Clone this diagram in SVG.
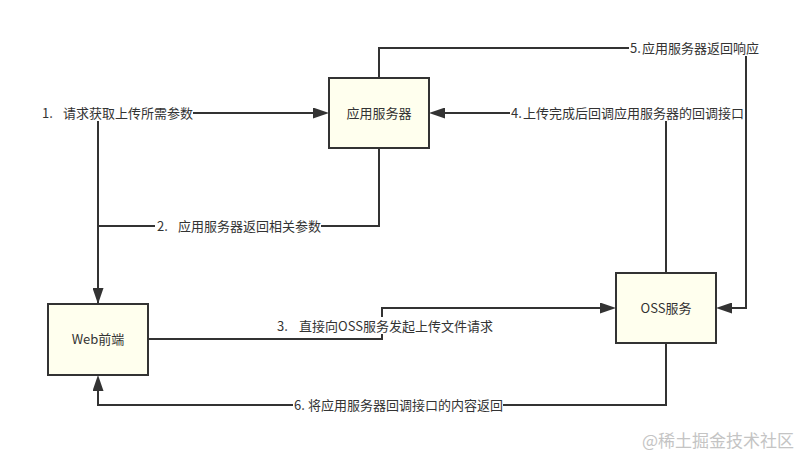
<svg xmlns="http://www.w3.org/2000/svg" width="808" height="467" viewBox="0 0 808 467">
<style>
.node rect{fill:#ffffee;stroke:#333;stroke-width:2}
.node text,.lbl text{font-family:"Noto Sans CJK SC","Liberation Serif",serif;font-size:13px;fill:#333}
.node text{text-anchor:middle}
.edge{fill:none;stroke:#333;stroke-width:2;marker-end:url(#arr)}
.lbl rect{fill:#fff}
.wm{font-family:"Noto Sans CJK SC",sans-serif;font-size:17px;fill:#c4c4c4}
</style>
<defs>
<marker id="arr" markerUnits="userSpaceOnUse" markerWidth="16" markerHeight="11" refX="12" refY="5.5" orient="auto">
<path d="M0,0 L16,5.5 L0,11 z" fill="#333"/>
</marker>
</defs>
<rect width="808" height="467" fill="#fff"/>
<g id="connectors">
<path class="edge" d="M98,304 L98,113 L325,113"/>
<path class="edge" d="M379,148 L379,226 L98,226 L98,300"/>
<path class="edge" d="M148,339 L382,339 L382,308 L612,308"/>
<path class="edge" d="M666,273 L666,113 L433,113"/>
<path class="edge" d="M379,78 L379,48 L746,48 L746,308 L720,308"/>
<path class="edge" d="M666,343 L666,405 L98,405 L98,379"/>
<g class="lbl"><rect x="40" y="104" width="153" height="17"/><text x="42" y="117.5">1. <tspan x="63">请求获取上传所需参数</tspan></text></g>
<g class="lbl"><rect x="155" y="217" width="166" height="17"/><text x="157" y="230.5">2. <tspan x="178">应用服务器返回相关参数</tspan></text></g>
<g class="lbl"><rect x="275" y="317" width="212" height="17"/><text x="277" y="330.5">3. <tspan x="299">直接向OSS服务发起上传文件请求</tspan></text></g>
<g class="lbl"><rect x="510" y="104" width="234" height="17"/><text x="511" y="117.5">4.<tspan x="523">上传完成后回调应用服务器的回调接口</tspan></text></g>
<g class="lbl"><rect x="629" y="39" width="130" height="17"/><text x="630" y="52.5">5.<tspan x="642">应用服务器返回响应</tspan></text></g>
<g class="lbl"><rect x="293" y="396" width="210" height="17"/><text x="294" y="409.5">6.<tspan x="308">将应用服务器回调接口的内容返回</tspan></text></g>
</g>
<g id="app-server" class="node"><rect x="329" y="78" width="100" height="70"/><text x="379" y="117.5">应用服务器</text></g>
<g id="web-frontend" class="node"><rect x="48" y="304" width="100" height="71"/><text x="98" y="343.5">Web前端</text></g>
<g id="oss" class="node"><rect x="616" y="273" width="100" height="70"/><text x="666" y="312.5">OSS服务</text></g>
<text class="wm" x="642" y="447">@稀土掘金技术社区</text>
</svg>
